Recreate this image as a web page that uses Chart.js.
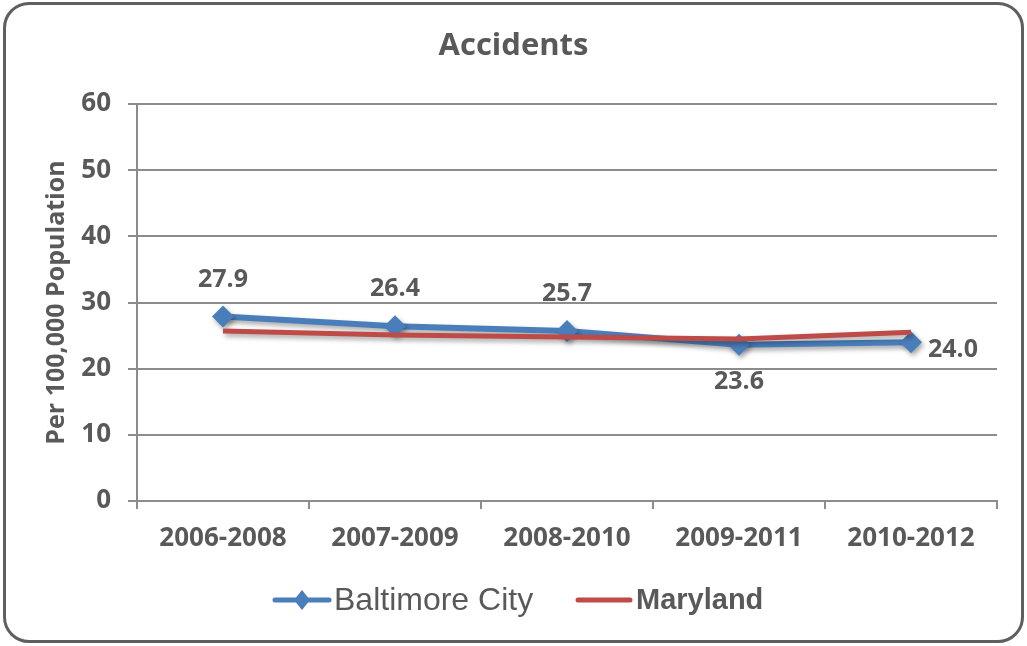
<!DOCTYPE html>
<html>
<head>
<meta charset="utf-8">
<script src="https://cdn.jsdelivr.net/npm/chart.js@4.4.1/dist/chart.umd.min.js"></script>
<style>
  html, body { margin: 0; padding: 0; background: #ffffff; }
  #wrap { position: relative; width: 1027px; height: 646px; }
  #frame {
    position: absolute; left: 3px; top: 2px; width: 1015px; height: 635px;
    border: 3px solid #5f5f5f; border-radius: 26px; pointer-events: none;
  }
  canvas { position: absolute; left: 0; top: 0; }
</style>
</head>
<body>
<div id="wrap">
  <canvas id="chart" width="1027" height="646"></canvas>
  <div id="frame"></div>
</div>
<script>
// Three-year periods and rates per 100,000 population
const periods = ['2006-2008', '2007-2009', '2008-2010', '2009-2011', '2010-2012'];
const baltimoreCity = [27.9, 26.4, 25.7, 23.6, 24.0];
const maryland = [25.7, 25.1, 24.8, 24.5, 25.5];
const yTicks = [0, 10, 20, 30, 40, 50, 60];

const FONT = '"Open Sans", "DejaVu Sans", sans-serif';
const TEXT = '#595959';
const BLUE = '#4a7ebb';
const RED = '#be4b48';
const GRID = '#8c8c8c';

// Where each Baltimore City value label sits relative to its marker
const labelPlacement = ['above', 'above', 'above', 'below', 'right'];

const titlePlugin = {
  id: 'chartTitle',
  afterDraw(chart) {
    const ctx = chart.ctx;
    ctx.save();
    ctx.fillStyle = TEXT;
    ctx.font = 'bold 31px ' + FONT;
    ctx.textAlign = 'center';
    ctx.textBaseline = 'middle';
    ctx.fillText('Accidents', chart.width / 2, 46);
    ctx.restore();
  }
};

const shadowPlugin = {
  id: 'lineShadow',
  beforeDatasetDraw(chart) {
    const ctx = chart.ctx;
    ctx.save();
    ctx.shadowColor = 'rgba(0,0,0,0.35)';
    ctx.shadowBlur = 5;
    ctx.shadowOffsetX = 2;
    ctx.shadowOffsetY = 3;
  },
  afterDatasetDraw(chart) {
    chart.ctx.restore();
  }
};

const valueLabelPlugin = {
  id: 'valueLabels',
  afterDatasetsDraw(chart) {
    const ctx = chart.ctx;
    const meta = chart.getDatasetMeta(0);
    ctx.save();
    ctx.fillStyle = TEXT;
    ctx.font = 'bold 25px ' + FONT;
    ctx.textBaseline = 'middle';
    meta.data.forEach((pt, i) => {
      const txt = baltimoreCity[i].toFixed(1);
      const where = labelPlacement[i];
      if (where === 'above') {
        ctx.textAlign = 'center';
        ctx.fillText(txt, pt.x, pt.y - 37);
      } else if (where === 'below') {
        ctx.textAlign = 'center';
        ctx.fillText(txt, pt.x, pt.y + 37);
      } else {
        ctx.textAlign = 'left';
        ctx.fillText(txt, pt.x + 17, pt.y + 8);
      }
    });
    ctx.restore();
  }
};

const legendPlugin = {
  id: 'bottomLegend',
  afterDraw(chart) {
    const ctx = chart.ctx;
    const y = 600;
    ctx.save();
    ctx.lineCap = 'round';
    // Baltimore City: line with diamond marker
    ctx.strokeStyle = BLUE;
    ctx.lineWidth = 5;
    ctx.beginPath(); ctx.moveTo(275, y); ctx.lineTo(329, y); ctx.stroke();
    ctx.fillStyle = BLUE;
    ctx.beginPath();
    ctx.moveTo(302, y - 10); ctx.lineTo(310, y); ctx.lineTo(302, y + 10); ctx.lineTo(294, y);
    ctx.closePath(); ctx.fill();
    ctx.fillStyle = TEXT;
    ctx.textBaseline = 'middle';
    ctx.textAlign = 'left';
    ctx.font = '32px "Liberation Sans", Arial, sans-serif';
    ctx.fillText('Baltimore City', 334, y + 1);
    // Maryland: plain line
    ctx.strokeStyle = RED;
    ctx.beginPath(); ctx.moveTo(578, y); ctx.lineTo(630, y); ctx.stroke();
    ctx.fillStyle = TEXT;
    ctx.font = 'bold 29px "Liberation Sans", Arial, sans-serif';
    ctx.fillText('Maryland', 636, y + 1);
    ctx.restore();
  }
};

function draw() {
  new Chart(document.getElementById('chart'), {
    type: 'line',
    data: {
      labels: periods,
      datasets: [
        {
          label: 'Baltimore City',
          data: baltimoreCity,
          borderColor: BLUE,
          backgroundColor: BLUE,
          borderWidth: 6,
          pointStyle: 'rectRot',
          pointRadius: 11,
          pointBorderWidth: 0,
          pointBackgroundColor: BLUE,
          tension: 0,
          order: 1
        },
        {
          label: 'Maryland',
          data: maryland,
          borderColor: RED,
          backgroundColor: RED,
          borderWidth: 5,
          pointRadius: 0,
          tension: 0,
          order: 0
        }
      ]
    },
    options: {
      responsive: false,
      animation: false,
      layout: { padding: { left: 0, right: 30, top: 104, bottom: 65 } },
      plugins: {
        legend: { display: false },
        title: { display: false },
        tooltip: { enabled: false }
      },
      scales: {
        x: {
          offset: true,
          grid: {
            offset: true,
            drawOnChartArea: false,
            drawTicks: true,
            tickLength: 8,
            color: GRID,
            lineWidth: 2
          },
          border: { color: GRID, width: 2 },
          ticks: {
            color: TEXT,
            padding: 14,
            maxRotation: 0,
            font: { family: FONT, size: 26, weight: 'bold' }
          },
          afterFit(scale) { scale.height = 80; }
        },
        y: {
          min: 0,
          max: 60,
          afterBuildTicks(scale) { scale.ticks = yTicks.map(v => ({ value: v })); },
          grid: {
            color: GRID,
            lineWidth: 2,
            drawTicks: true,
            tickLength: 9
          },
          border: { color: GRID, width: 2 },
          ticks: {
            color: TEXT,
            padding: 17,
            font: { family: FONT, size: 26, weight: 'bold' }
          },
          title: {
            display: true,
            text: 'Per 100,000 Population',
            color: TEXT,
            padding: { top: 42, bottom: 0 },
            font: { family: FONT, size: 25, weight: 'bold' }
          },
          afterFit(scale) { scale.width = 137; }
        }
      }
    },
    plugins: [shadowPlugin, valueLabelPlugin, titlePlugin, legendPlugin]
  });
}

Promise.all([
  document.fonts.load('bold 24px "Open Sans"'),
  document.fonts.load('24px "Liberation Sans"'),
  document.fonts.load('bold 24px "Liberation Sans"')
]).then(draw, draw);
</script>
</body>
</html>
